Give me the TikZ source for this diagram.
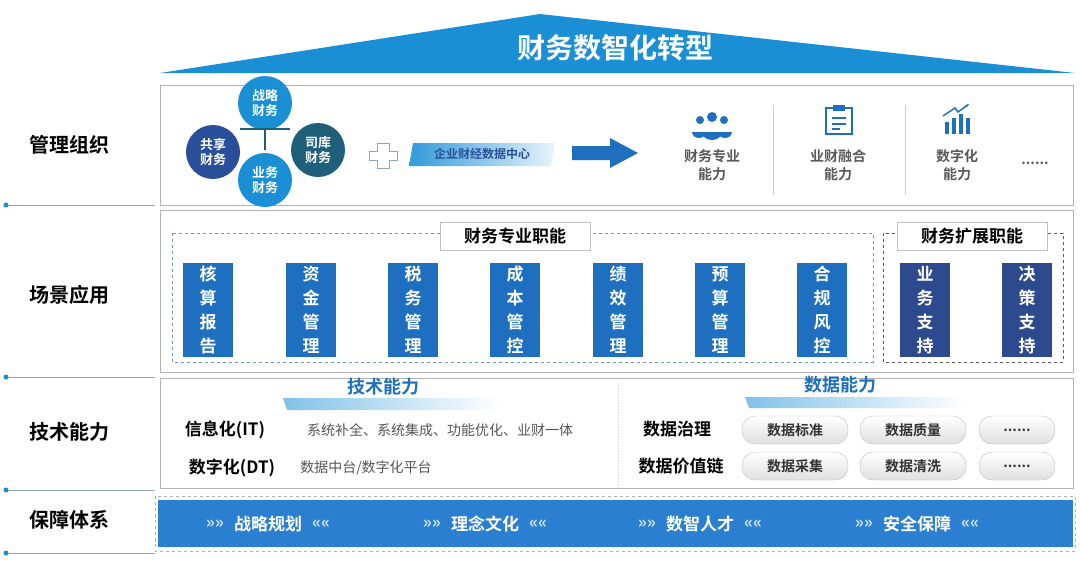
\documentclass[tikz,border=0pt]{standalone}
\usepackage{fontspec}
\setmainfont{Noto Sans CJK SC}[BoldFont={Noto Sans CJK SC Bold}]
\usetikzlibrary{shapes.geometric,arrows.meta}
\definecolor{mblue}{HTML}{1A8FD6}
\definecolor{navy}{HTML}{2A4F9A}
\definecolor{teal2}{HTML}{1F5F7A}
\definecolor{boxblue}{HTML}{1E6FC0}
\definecolor{boxnavy}{HTML}{2E4A8F}
\definecolor{barblue}{HTML}{2A7FD0}
\definecolor{lineg}{HTML}{8FA7BD}
\definecolor{txtg}{HTML}{555555}
\tikzset{
 panel/.style={draw=gray!60,line width=1pt,fill=white},
 circ/.style={circle,minimum size=54pt,inner sep=0pt,text=white,font=\bfseries\fontsize{13}{15}\selectfont,align=center},
 fbox/.style={draw=white,line width=1.5pt,fill=boxblue,minimum width=52pt,minimum height=95pt,text=white,font=\bfseries\fontsize{17}{24}\selectfont,align=center,inner sep=0pt},
 lbl/.style={font=\bfseries\fontsize{20}{24}\selectfont},
 pill/.style={rounded corners=13pt,draw=gray!50,top color=white,bottom color=gray!25,minimum height=28pt,font=\bfseries\fontsize{14}{16}\selectfont,text=black!80},
 captxt/.style={text=gray!70!black,font=\bfseries\fontsize{14}{18}\selectfont,align=center},
 bartxt/.style={text=white,font=\bfseries\fontsize{17}{20}\selectfont},
}
\begin{document}
\begin{tikzpicture}[x=1pt,y=-1pt]
\useasboundingbox (0,0) rectangle (1080,566);
% roof
\fill[mblue] (160,73) -- (540,14) -- (1075,73) -- cycle;
\node[text=white,font=\bfseries\fontsize{28}{32}\selectfont] (title) at (615,48) {财务数智化转型};
% left labels and lines
\foreach \n/\t/\y/\ly in {l1/管理组织/145/205,l2/场景应用/295/377,l3/技术能力/432/490,l4/保障体系/520/553}{
 \node[lbl] (\n) at (70,\y) {\t};
 \draw[lineg,line width=1pt] (5,\ly) -- (155,\ly);
 \fill[mblue] (6,\ly) circle (2.5pt);
}
% panel 1
\draw[panel] (160,85) rectangle (1073,205);
\node[circ,fill=mblue] (c1) at (265,103) {战略\\财务};
\node[circ,fill=navy] (c2) at (213,152) {共享\\财务};
\node[circ,fill=teal2] (c3) at (318,150) {司库\\财务};
\node[circ,fill=mblue] (c4) at (265,180) {业务\\财务};
\draw[teal2,line width=1.5pt] (240,129) -- (290,129) (265,129) -- (265,150);
\draw[lineg,line width=1pt,fill=white] (377,143) -- (389,143) -- (389,151) -- (397,151) -- (397,160) -- (389,160) -- (389,168) -- (377,168) -- (377,160) -- (369,160) -- (369,151) -- (377,151) -- cycle;
\shade[left color=mblue!90,right color=mblue!10] (413,143) -- (555,143) -- (551,166) -- (409,166) -- cycle;
\node[text=navy,font=\bfseries\fontsize{12}{14}\selectfont] (dc) at (482,154) {企业财经数据中心};
\fill[boxblue] (572,146) -- (610,146) -- (610,138) -- (638,153) -- (610,168) -- (610,160) -- (572,160) -- cycle;
\draw[gray!40,line width=1pt] (773,105) -- (773,195) (905,105) -- (905,195);
% icons
\begin{scope}[boxblue]
 \fill (712,117) circle (5); \fill (700,120) circle (4); \fill (724,120) circle (4);
 \fill (702,132) arc (180:0:10 and 8) -- cycle;
 \fill (692,132) arc (180:0:7 and 6) -- cycle; \fill (718,132) arc (180:0:7 and 6) -- cycle;
 \draw[line width=2pt] (826,108) rectangle (852,134);
 \fill (833,105) rectangle (845,111);
 \draw[line width=2pt] (832,118) -- (846,118) (832,124) -- (846,124) (832,129) -- (840,129);
 \fill (945,122) rectangle (949,134); \fill (952,118) rectangle (956,134);
 \fill (959,114) rectangle (963,134); \fill (966,118) rectangle (970,134);
 \draw[line width=1.5pt,-{Stealth[length=4pt]}] (943,116) -- (955,108) -- (958,112) -- (969,104);
\end{scope}
\node[captxt] (a1) at (712,165) {财务专业\\能力};
\node[captxt] (a2) at (838,165) {业财融合\\能力};
\node[captxt] (a3) at (957,165) {数字化\\能力};
\node[captxt] (a4) at (1035,163) {......};
% panel 2
\draw[panel] (160,210) rectangle (1073,372);
\draw[boxblue!70,dashed,line width=1pt] (172,233) rectangle (873,362);
\draw[gray!70!black,dashed,line width=1pt] (883,233) rectangle (1063,362);
\node[draw=gray!50,fill=white,minimum width=150pt,minimum height=28pt,font=\bfseries\fontsize{17}{20}\selectfont] (t1) at (515,236) {财务专业职能};
\node[draw=gray!50,fill=white,minimum width=150pt,minimum height=28pt,font=\bfseries\fontsize{17}{20}\selectfont] (t2) at (972,236) {财务扩展职能};
\foreach \n/\x/\t in {b1/208/核\\算\\报\\告,b2/311/资\\金\\管\\理,b3/413/税\\务\\管\\理,b4/515/成\\本\\管\\控,b5/618/绩\\效\\管\\理,b6/720/预\\算\\管\\理,b7/822/合\\规\\风\\控}
 \node[fbox] (\n) at (\x,310) {\t};
\node[fbox,fill=boxnavy] (b8) at (925,310) {业\\务\\支\\持};
\node[fbox,fill=boxnavy] (b9) at (1027,310) {决\\策\\支\\持};
% panel 3
\draw[panel] (160,378) rectangle (1073,488);
\draw[gray!40,dotted,line width=1pt] (618,382) -- (618,485);
\shade[left color=mblue!55,right color=white] (283,398) -- (500,398) -- (500,410) -- (287,410) -- cycle;
\node[text=boxblue,font=\bfseries\fontsize{18}{20}\selectfont] (h1) at (383,387) {技术能力};
\shade[left color=mblue!55,right color=white] (745,397) -- (965,397) -- (965,408) -- (749,408) -- cycle;
\node[text=boxblue,font=\bfseries\fontsize{18}{20}\selectfont] (h2) at (840,385) {数据能力};
\node[font=\bfseries\fontsize{17}{20}\selectfont] (it) at (225,430) {信息化(IT)};
\node[text=txtg,font=\fontsize{14}{16}\selectfont] (itd) at (440,430) {系统补全、系统集成、功能优化、业财一体};
\node[font=\bfseries\fontsize{17}{20}\selectfont] (dt) at (232,468) {数字化(DT)};
\node[text=txtg,font=\fontsize{14}{16}\selectfont] (dtd) at (366,468) {数据中台/数字化平台};
\node[font=\bfseries\fontsize{17}{20}\selectfont] (dg) at (677,429) {数据治理};
\node[font=\bfseries\fontsize{17}{20}\selectfont] (dv) at (681,466) {数据价值链};
\node[pill,minimum width=106pt] (p1) at (795,430) {数据标准};
\node[pill,minimum width=106pt] (p2) at (913,430) {数据质量};
\node[pill,minimum width=76pt] (p3) at (1017,430) {......};
\node[pill,minimum width=106pt] (p4) at (795,466) {数据采集};
\node[pill,minimum width=106pt] (p5) at (913,466) {数据清洗};
\node[pill,minimum width=76pt] (p6) at (1017,466) {......};
% panel 4
\draw[gray!60,dashed,line width=1pt] (155,496) rectangle (1075,551);
\fill[barblue] (158,500) rectangle (1073,547);
\foreach \n/\x/\t in {s1/268/战略规划,s2/485/理念文化,s3/700/数智人才,s4/917/安全保障}{
 \node[bartxt] (\n) at (\x,524) {\t};
 \node[text=white!80!barblue,font=\bfseries\fontsize{17}{20}\selectfont,anchor=east] at ([xshift=-3pt]\n.west) {»»};
 \node[text=white!80!barblue,font=\bfseries\fontsize{17}{20}\selectfont,anchor=west] at ([xshift=3pt]\n.east) {««};
}
\end{tikzpicture}
\end{document}
